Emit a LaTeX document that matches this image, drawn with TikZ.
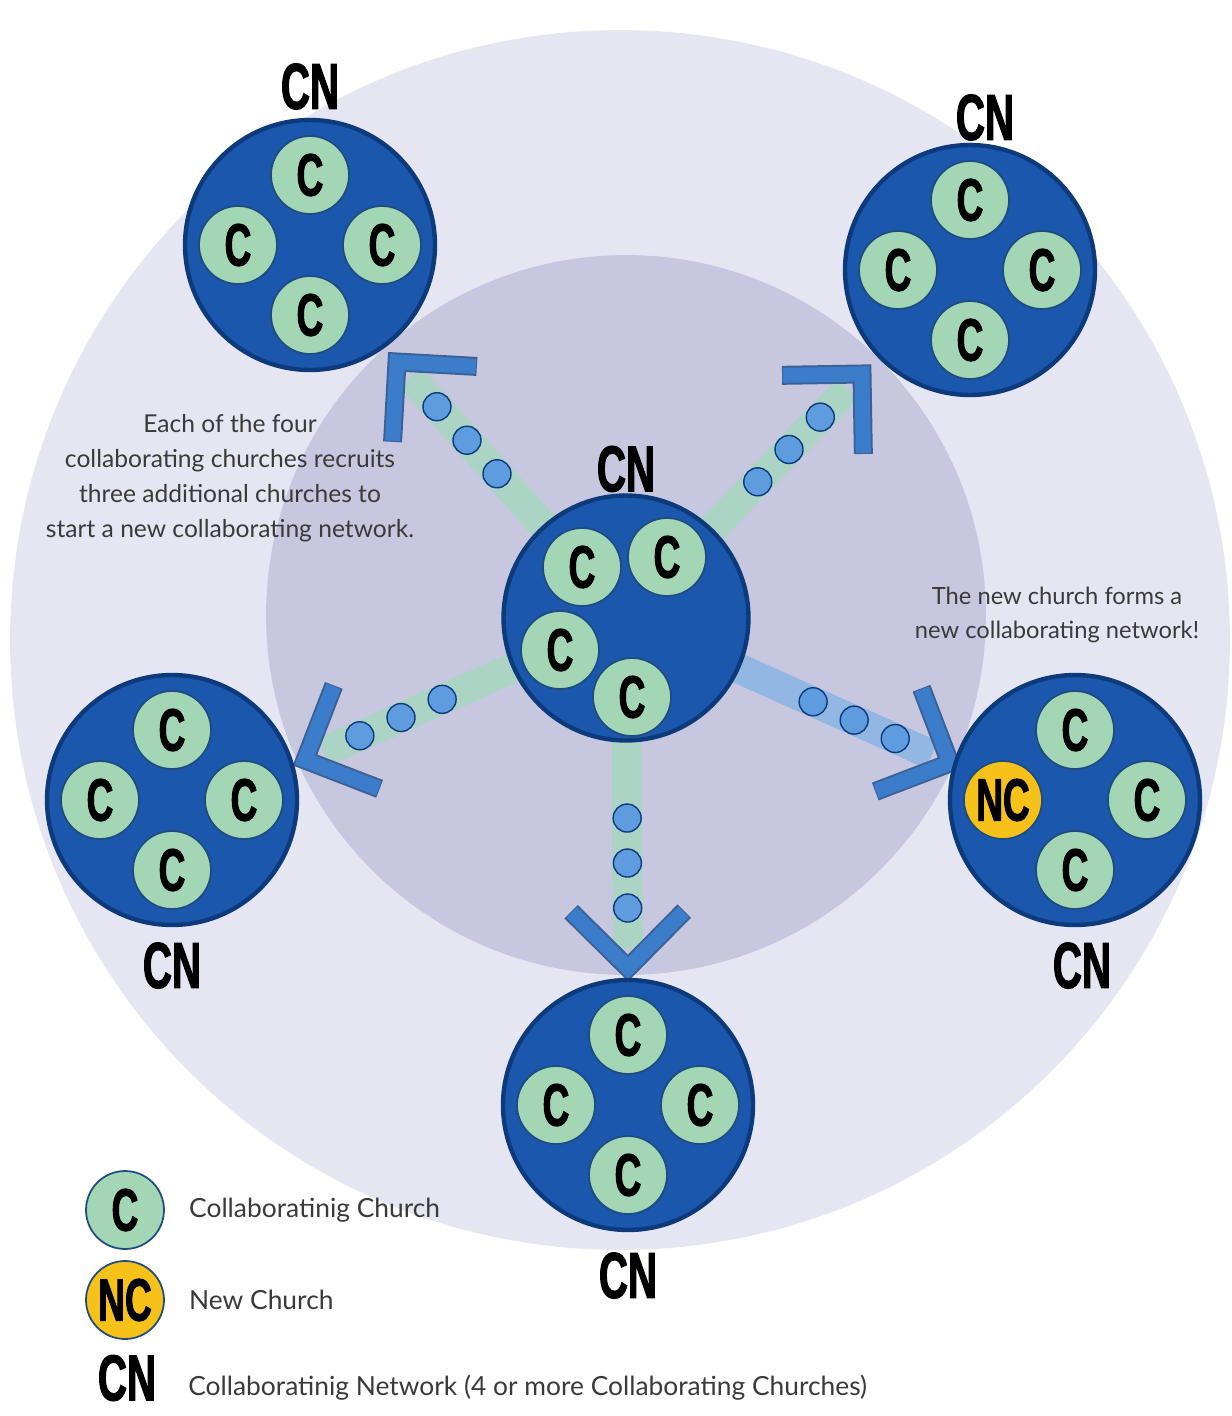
\documentclass[tikz,border=0pt]{standalone}
\usepackage{fontspec}
\setmainfont{Lato}
\newfontfamily\cnfont[FakeStretch=0.62, FakeBold=1.6]{Liberation Sans}
\usetikzlibrary{calc,positioning}
\definecolor{outerbg}{HTML}{E6E6F2}
\definecolor{innerbg}{HTML}{C7C7E0}
\definecolor{netblue}{HTML}{1B58AD}
\definecolor{netdark}{HTML}{0C3A7A}
\definecolor{churchgreen}{HTML}{A3D6B4}
\definecolor{churchedge}{HTML}{1E4C7E}
\definecolor{ncyellow}{HTML}{F6C21A}
\definecolor{beadblue}{HTML}{5E9CDF}
\definecolor{chevblue}{HTML}{3B7DCB}
\definecolor{bandgreen}{HTML}{A6D8BE}
\definecolor{bandblue}{HTML}{86B4E4}
\definecolor{textgray}{HTML}{3A3A3A}
\tikzset{
  netdisk/.style={circle, minimum size=5cm, inner sep=0pt,
    fill=netblue, draw=netdark, line width=2.5pt},
  church/.style={circle, minimum size=1.56cm, inner sep=0pt,
    fill=churchgreen, draw=churchedge, line width=1pt,
    font=\cnfont\bfseries\fontsize{34pt}{34pt}\selectfont},
  newchurch/.style={church, fill=ncyellow},
  cnlabel/.style={inner sep=0pt,
    font=\cnfont\bfseries\fontsize{37pt}{37pt}\selectfont},
  bead/.style={circle, minimum size=0.56cm, inner sep=0pt,
    fill=beadblue, draw=netdark, line width=0.8pt},
  band/.style={line width=0.6cm, draw=bandgreen, opacity=0.8,
    shorten >=0.4cm},
  chevron/.style={draw=chevblue, line width=0.3cm, miter limit=10},
  chevedge/.style={draw=netdark!80, line width=0.38cm, miter limit=10},
  note/.style={text=textgray, align=center,
    font=\fontsize{14pt}{20pt}\selectfont},
  keytext/.style={text=textgray, inner sep=0pt,
    font=\fontsize{15pt}{17pt}\selectfont}
}
\begin{document}
\begin{tikzpicture}[x=0.02cm, y=-0.02cm]
    \useasboundingbox (0,0) rectangle (1231,1416);
    \fill[white] (0,0) rectangle (1231,1416);

    % background rings
    \fill[outerbg] (620,640) circle (12.2cm);
    \fill[innerbg] (626,615) circle (7.2cm);

    \coordinate (ctr) at (626,618);

    % outer networks (centres)
    \coordinate (nw) at (310,245);
    \coordinate (ne) at (970,270);
    \coordinate (w)  at (172,800);
    \coordinate (e)  at (1075,800);
    \coordinate (s)  at (628,1105);

    % arrow tips
    \coordinate (nw-tip) at (397,362);
    \coordinate (ne-tip) at (862,374);
    \coordinate (w-tip)  at (305,760);
    \coordinate (e-tip)  at (950,763);
    \coordinate (s-tip)  at (628,968);

    % bands
    \draw[band] (ctr) -- (nw-tip);
    \draw[band] (ctr) -- (ne-tip);
    \draw[band] (ctr) -- (w-tip);
    \draw[band, draw=bandblue] (ctr) -- (e-tip);
    \draw[band] (ctr) -- (s-tip);

    % central network
    \node[netdisk, minimum size=4.9cm] (hub) at (ctr) {};
    \node[cnlabel, above=0.02cm of hub] (hub-cn) {CN};
    \node[church] (hub-c1) at (582,567) {C};
    \node[church] (hub-c2) at (667,557) {C};
    \node[church] (hub-c3) at (560,650) {C};
    \node[church] (hub-c4) at (632,697) {C};

    % beads and chevrons
    \foreach \t in {nw,ne,w,e,s}{
        \node[bead] (\t-b1) at ($(\t-tip)!1.2cm!(ctr)$) {};
        \node[bead] (\t-b2) at ($(\t-tip)!2.1cm!(ctr)$) {};
        \node[bead] (\t-b3) at ($(\t-tip)!3.0cm!(ctr)$) {};
        \draw[chevedge] ($(\t-tip)!1.6cm!45:(ctr)$) -- (\t-tip)
                     -- ($(\t-tip)!1.6cm!-45:(ctr)$);
        \draw[chevron] ($(\t-tip)!1.58cm!45:(ctr)$) -- (\t-tip)
                    -- ($(\t-tip)!1.58cm!-45:(ctr)$);
    }

    % the four plain networks
    \foreach \n in {nw,ne,w,s}{
        \node[netdisk] (\n-net) at (\n) {};
        \node[church] (\n-t) at ($(\n)+(0,-70)$) {C};
        \node[church] (\n-l) at ($(\n)+(-72,0)$) {C};
        \node[church] (\n-r) at ($(\n)+(72,0)$) {C};
        \node[church] (\n-b) at ($(\n)+(0,70)$) {C};
    }

    % network with the new church
    \node[netdisk] (e-net) at (e) {};
    \node[church] (e-t) at ($(e)+(0,-70)$) {C};
    \node[newchurch] (e-l) at ($(e)+(-72,0)$) {NC};
    \node[church] (e-r) at ($(e)+(72,0)$) {C};
    \node[church] (e-b) at ($(e)+(0,70)$) {C};

    \node[cnlabel, above=0.16cm of nw-net] (nw-cn) {CN};
    \node[cnlabel, above=0.04cm of ne-net, xshift=0.3cm] (ne-cn) {CN};
    \node[cnlabel, below=0.3cm of w-net] (w-cn) {CN};
    \node[cnlabel, below=0.3cm of e-net, xshift=0.14cm] (e-cn) {CN};
    \node[cnlabel, below=0.4cm of s-net] (s-cn) {CN};

    % notes
    \node[note] (note-l) at (230,478) {Each of the four\\
        collaborating churches recruits\\
        three additional churches to\\
        start a new collaborating network.};
    \node[note, font=\fontsize{13.5pt}{19pt}\selectfont] (note-r)
        at (1057,615) {The new church forms a\\
        new collaborating network!};

    % key
    \node[church] (key-c) at (125,1210) {C};
    \node[keytext, right=0.48cm of key-c] (key-c-txt) {Collaboratinig Church};
    \node[newchurch] (key-nc) at (125,1300) {NC};
    \node[keytext, right=0.48cm of key-nc] (key-nc-txt) {New Church};
    \node[cnlabel] (key-cn) at (127,1378) {CN};
    \node[keytext, anchor=west] (key-cn-txt) at (188,1388)
        {Collaboratinig Network (4 or more Collaborating Churches)};
\end{tikzpicture}
\end{document}
